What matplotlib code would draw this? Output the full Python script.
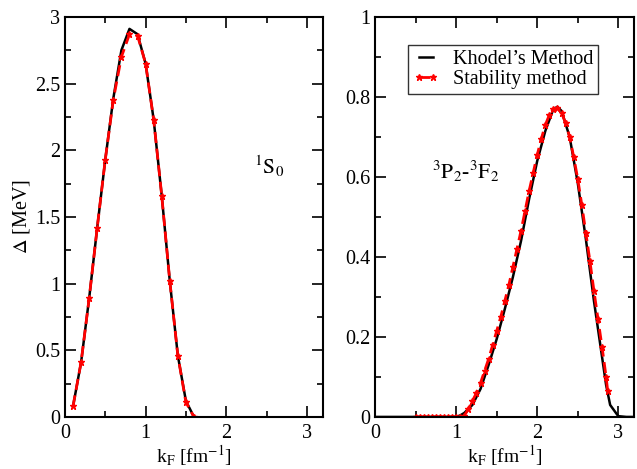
import numpy as np
import matplotlib
matplotlib.use('Agg')
import matplotlib.pyplot as plt
from matplotlib.ticker import MultipleLocator, FormatStrFormatter

plt.rcParams['font.family'] = ['Liberation Serif', 'DejaVu Serif']
plt.rcParams['mathtext.fontset'] = 'stix'

# 1S0 channel
kf_s0 = [0.1, 0.2, 0.3, 0.4, 0.5, 0.6, 0.7, 0.8, 0.9, 1.0, 1.1, 1.2, 1.3, 1.4, 1.5, 1.6]
khodel_s0 = [0.08, 0.41, 0.89, 1.42, 1.93, 2.39, 2.75, 2.91, 2.87, 2.65, 2.23, 1.66, 1.02, 0.46, 0.12, 0.0]
stab_s0 = [0.08, 0.41, 0.89, 1.42, 1.93, 2.38, 2.70, 2.87, 2.86, 2.65, 2.23, 1.66, 1.02, 0.46, 0.11, 0.0]

# 3P2-3F2 channel
kf_p2_k = [0.0, 0.5, 1.0, 1.05, 1.1, 1.2, 1.3, 1.4, 1.5, 1.6, 1.7, 1.8, 1.9, 2.0, 2.1, 2.2, 2.25,
           2.3, 2.4, 2.5, 2.6, 2.7, 2.8, 2.85, 2.9, 3.0, 3.1, 3.2]
khodel_p2 = [0.0, 0.0, 0.0, 0.004, 0.01, 0.03, 0.07, 0.13, 0.195, 0.27, 0.35, 0.44, 0.545, 0.64,
             0.715, 0.77, 0.775, 0.765, 0.70, 0.585, 0.445, 0.29, 0.15, 0.08, 0.03, 0.002, 0.0, 0.0]

kf_p2_s = [0.5, 0.55, 0.6, 0.65, 0.7, 0.75, 0.8, 0.85, 0.9, 0.95, 1.0, 1.05, 1.1, 1.15, 1.2, 1.25,
           1.3, 1.35, 1.4, 1.45, 1.5, 1.55, 1.6, 1.65, 1.7, 1.75, 1.8, 1.85, 1.9, 1.95, 2.0, 2.05,
           2.1, 2.15, 2.2, 2.25, 2.3, 2.35, 2.4, 2.45, 2.5, 2.55, 2.6, 2.65, 2.7, 2.75, 2.8, 2.85, 2.87]
stab_p2 = [0.0, 0.0, 0.0, 0.0, 0.0, 0.0, 0.0, 0.0, 0.0, 0.0, 0.0, 0.0, 0.003, 0.02, 0.04, 0.06,
           0.085, 0.115, 0.145, 0.18, 0.215, 0.25, 0.29, 0.33, 0.375, 0.42, 0.465, 0.515, 0.565,
           0.61, 0.655, 0.695, 0.73, 0.755, 0.77, 0.772, 0.76, 0.735, 0.70, 0.65, 0.595, 0.53,
           0.46, 0.39, 0.315, 0.245, 0.175, 0.10, 0.065]

fs = 14.5

fig = plt.figure(figsize=(6.37, 4.69), dpi=100)
ax1 = fig.add_axes([0.102, 0.111, 0.405, 0.853])
ax2 = fig.add_axes([0.589, 0.111, 0.407, 0.853])

for ax in (ax1, ax2):
    ax.set_xlim(0, 3.2)
    ax.xaxis.set_major_locator(MultipleLocator(1))
    ax.xaxis.set_minor_locator(MultipleLocator(0.5))
    ax.tick_params(which='both', direction='in', top=True, right=True, labelsize=fs, width=1.2)
    ax.tick_params(which='major', length=8)
    ax.tick_params(which='minor', length=4)
    ax.tick_params(axis='x', pad=5)
    ax.xaxis.set_major_formatter(FormatStrFormatter('%g'))
    ax.yaxis.set_major_formatter(FormatStrFormatter('%g'))
    for s in ax.spines.values():
        s.set_linewidth(1.5)
    ax.set_xlabel(r'k$_\mathrm{F}$ [fm$^{-1}$]', fontsize=14, labelpad=0)

ax1.plot(kf_s0, khodel_s0, color='black', lw=1.8)
ax1.plot(kf_s0, stab_s0, color='red', lw=2, ls='--', dashes=(4, 2), marker='*', ms=5)
ax1.set_ylim(0, 3)
ax1.yaxis.set_major_locator(MultipleLocator(0.5))
ax1.yaxis.set_minor_locator(MultipleLocator(0.25))
ax1.set_ylabel(r'$\Delta$ [MeV]', fontsize=fs, labelpad=2)
ax1.text(2.35, 1.82, r'$^{1}\mathrm{S}_{0}$', fontsize=fs + 1)

ax2.plot(kf_p2_k, khodel_p2, color='black', lw=1.8, label="Khodel’s Method")
ax2.plot(kf_p2_s, stab_p2, color='red', lw=2, ls='--', dashes=(4, 2), marker='*', ms=5,
         label='Stability method')
ax2.set_ylim(0, 1)
ax2.yaxis.set_major_locator(MultipleLocator(0.2))
ax2.yaxis.set_minor_locator(MultipleLocator(0.1))
ax2.text(0.70, 0.595, r'$^{3}\mathrm{P}_{2}$-$^{3}\mathrm{F}_{2}$', fontsize=fs + 1)
leg = ax2.legend(loc='upper left', bbox_to_anchor=(0.125, 0.93), fontsize=fs, frameon=True,
                 fancybox=False, edgecolor='black', handlelength=1.3, borderpad=0.25,
                 labelspacing=0.05, handletextpad=0.7, numpoints=2, borderaxespad=0)
leg.get_frame().set_linewidth(1.0)

fig.savefig('out.png', dpi=100)
